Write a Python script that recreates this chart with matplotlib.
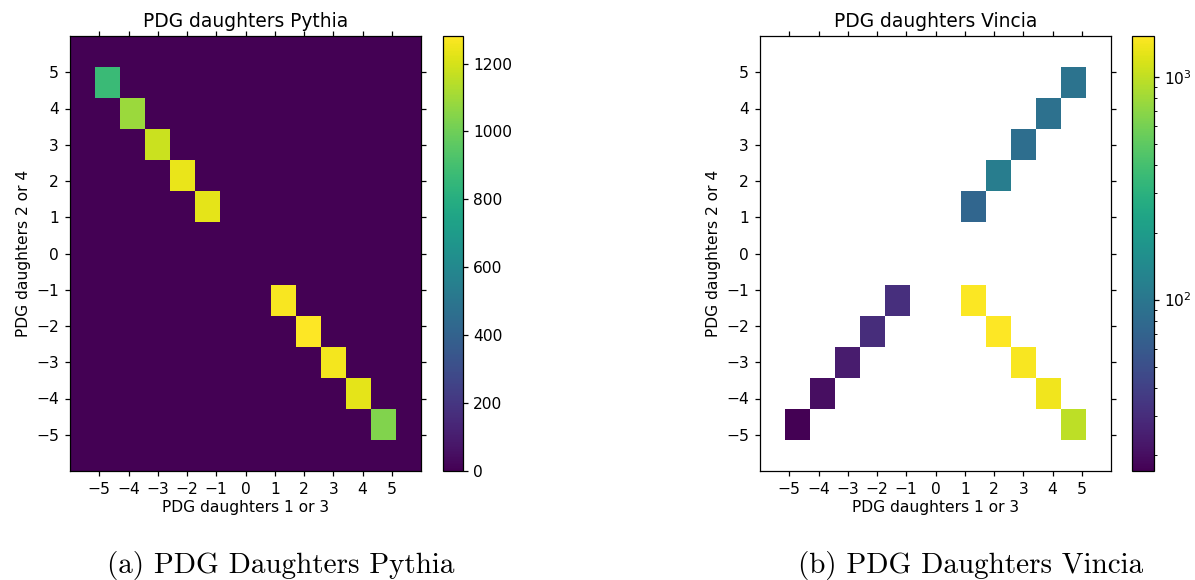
import numpy as np
import matplotlib
matplotlib.use("Agg")
import matplotlib.pyplot as plt
from matplotlib.colors import LogNorm, Normalize

# ---- data ----
pythia_x = [-5, -4, -3, -2, -1, 1, 2, 3, 4, 5]
pythia_y = [5, 4, 3, 2, 1, -1, -2, -3, -4, -5]
pythia_n = [870, 1090, 1180, 1240, 1230, 1270, 1281, 1260, 1230, 1040]

vincia_x = [1, 2, 3, 4, 5, -1, -2, -3, -4, -5, 1, 2, 3, 4, 5]
vincia_y = [1, 2, 3, 4, 5, -1, -2, -3, -4, -5, -1, -2, -3, -4, -5]
vincia_n = [74, 112, 85, 89, 94, 31, 30, 24, 20, 17, 1480, 1525, 1450, 1393, 970]

ticks = [-5, -4, -3, -2, -1, 0, 1, 2, 3, 4, 5]
titles = ["PDG daughters Pythia", "PDG daughters Vincia"]
captions = ["(a) PDG Daughters Pythia", "(b) PDG Daughters Vincia"]
xlabel = "PDG daughters 1 or 3"
ylabel = "PDG daughters 2 or 4"

W, H = 1195, 580
S = 1.12
fig = plt.figure(figsize=(W / 100, H / 100), dpi=100)


def fr(x0, y0, x1, y1):
    return [x0 / W, 1 - y1 / H, (x1 - x0) / W, (y1 - y0) / H]


ax1 = fig.add_axes(fr(70, 36, 421, 471))
cax1 = fig.add_axes(fr(443, 36, 463, 471))
ax2 = fig.add_axes(fr(760, 36, 1111, 471))
cax2 = fig.add_axes(fr(1132, 36, 1154, 471))

rng = [[-6, 6], [-6, 6]]
_, _, _, im1 = ax1.hist2d(pythia_x, pythia_y, bins=14, range=rng, weights=pythia_n,
                          cmap="viridis", norm=Normalize(vmin=0, vmax=max(pythia_n)))
_, _, _, im2 = ax2.hist2d(vincia_x, vincia_y, bins=14, range=rng, weights=vincia_n,
                          cmap="viridis", norm=LogNorm(vmin=min(vincia_n), vmax=max(vincia_n)))

for ax, t in zip([ax1, ax2], titles):
    ax.set_xlim(-6, 6)
    ax.set_ylim(-6, 6)
    ax.set_xticks(ticks)
    ax.set_yticks(ticks)
    ax.tick_params(direction="out", top=True, right=True, length=3.5 * S,
                   width=0.8 * S, labelsize=10 * S, pad=3.5 * S)
    ax.set_title(t, fontsize=12 * S, pad=6 * S)
    ax.set_xlabel(xlabel, fontsize=10 * S, labelpad=2)
    ax.set_ylabel(ylabel, fontsize=10 * S, labelpad=4)
    ax.set_facecolor("white")
    for sp in ax.spines.values():
        sp.set_linewidth(0.8 * S)

cb1 = fig.colorbar(im1, cax=cax1)
cb1.set_ticks([0, 200, 400, 600, 800, 1000, 1200])
cb2 = fig.colorbar(im2, cax=cax2)
for cb in (cb1, cb2):
    cb.ax.tick_params(labelsize=10 * S, length=3.5 * S, width=0.8 * S)
    cb.ax.tick_params(which="minor", length=2 * S, width=0.6 * S)
    cb.outline.set_linewidth(0.8 * S)

fig.text(281 / W, 1 - 566 / H, captions[0], ha="center", va="center",
         family="cmr10", fontsize=21)
fig.text(971 / W, 1 - 566 / H, captions[1], ha="center", va="center",
         family="cmr10", fontsize=21)

fig.savefig("out.png", dpi=100)
